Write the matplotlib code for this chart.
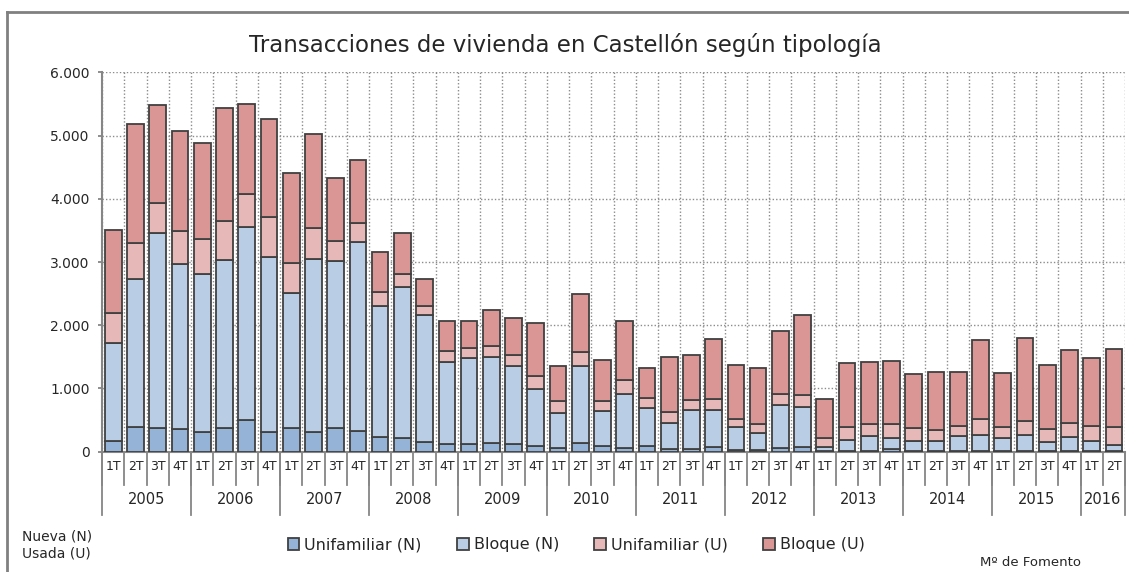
import numpy as np
import matplotlib
matplotlib.use("Agg")
import matplotlib.pyplot as plt
from matplotlib.patches import Patch
from matplotlib.lines import Line2D
from matplotlib.ticker import FuncFormatter

# datos trimestrales 2005 1T - 2016 2T
years = ["2005", "2006", "2007", "2008", "2009", "2010", "2011",
         "2012", "2013", "2014", "2015", "2016"]
quarters_per_year = [4, 4, 4, 4, 4, 4, 4, 4, 4, 4, 4, 2]
quarter_names = ["1T", "2T", "3T", "4T"]

unifamiliar_n = [169, 390, 369, 353, 306, 369, 496, 306, 380, 316, 380, 327,
                 232, 221, 158, 121, 116, 142, 121, 90, 58, 142, 84, 63,
                 95, 37, 47, 79, 21, 32, 53, 79, 10, 15, 10, 50,
                 10, 8, 5, 5, 8, 5, 5, 5, 5, 5]
bloque_n = [1555, 2341, 3089, 2620, 2498, 2657, 3052, 2767, 2129, 2726, 2641, 2994,
            2072, 2378, 2003, 1302, 1360, 1360, 1239, 906, 559, 1213, 564, 849,
            596, 422, 612, 580, 364, 263, 690, 633, 69, 169, 243, 172,
            164, 166, 243, 253, 214, 264, 153, 233, 169, 101]
unifamiliar_u = [474, 564, 480, 517, 565, 622, 522, 633, 469, 495, 305, 300,
                 216, 211, 148, 169, 163, 169, 169, 195, 190, 221, 159, 227,
                 152, 163, 158, 174, 126, 148, 174, 189, 143, 201, 179, 221,
                 200, 169, 163, 253, 168, 211, 206, 221, 232, 284]
bloque_u = [1308, 1882, 1544, 1581, 1507, 1792, 1423, 1560, 1434, 1481, 1007, 992,
            638, 643, 416, 480, 433, 564, 585, 839, 548, 912, 648, 933,
            485, 870, 712, 954, 860, 880, 991, 1266, 611, 1012, 986, 991,
            859, 917, 849, 1260, 859, 1323, 1001, 1149, 1070, 1239]

series = [("Unifamiliar (N)", unifamiliar_n, "#95B3D7"),
          ("Bloque (N)", bloque_n, "#B9CDE5"),
          ("Unifamiliar (U)", unifamiliar_u, "#E6B9B8"),
          ("Bloque (U)", bloque_u, "#D99694")]

W, H = 1129, 572
fig = plt.figure(figsize=(W / 100, H / 100), dpi=100)
ax = fig.add_axes([102.2 / W, 1 - 451.7 / H, (1125 - 102.2) / W, (451.7 - 72.3) / H])

n = len(bloque_u)
x = np.arange(n)
bottom = np.zeros(n)
for name, vals, col in series:
    vals = np.array(vals)
    ax.bar(x, vals, 0.75, bottom=bottom, color=col, edgecolor="#404040",
           linewidth=1.3, zorder=3)
    bottom += vals

ax.set_xlim(-0.5, n - 0.5)
ax.set_ylim(0, 6000)
ax.set_yticks(np.arange(0, 6001, 1000))
ax.yaxis.set_major_formatter(FuncFormatter(lambda v, p: f"{int(v):,}".replace(",", ".")))
ax.set_xticks([])
ax.set_xticks(np.arange(n + 1) - 0.5, minor=True)
ax.tick_params(axis="y", length=3, width=1.3, color="#868686", labelsize=10,
               labelcolor="#262626", pad=6)
ax.tick_params(axis="x", which="both", length=0)
ax.grid(axis="y", which="major", linestyle=(0, (1, 1.5)), color="#8c8c8c", lw=1, zorder=0)
ax.grid(axis="x", which="minor", linestyle=(0, (1, 1.5)), color="#8c8c8c", lw=1, zorder=0)
for s in ["top", "right"]:
    ax.spines[s].set_visible(False)
for s in ["left", "bottom"]:
    ax.spines[s].set_color("#868686")
    ax.spines[s].set_linewidth(1.5)

# etiquetas de dos niveles (trimestre / año)
axh = 451.7 - 72.3
tr = ax.get_xaxis_transform()
pos = 0
for yr, nq in zip(years, quarters_per_year):
    for q in range(nq):
        ax.text(pos + q, -15 / axh, quarter_names[q], transform=tr, ha="center",
                va="center", fontsize=9, color="#262626")
    ax.text(pos + (nq - 1) / 2, -48 / axh, yr, transform=tr, ha="center",
            va="center", fontsize=10.5, color="#262626")
    pos += nq
for i in range(n + 1):
    ax.add_line(Line2D([i - 0.5, i - 0.5], [0, -33 / axh], transform=tr,
                       color="#868686", lw=1.3, clip_on=False))
pos = 0
for nq in [0] + quarters_per_year:
    pos += nq
    ax.add_line(Line2D([pos - 0.5, pos - 0.5], [0, -63 / axh], transform=tr,
                       color="#868686", lw=1.3, clip_on=False))

fig.text(565 / W, 1 - 45 / H, "Transacciones de vivienda en Castellón según tipología",
         ha="center", va="center", fontsize=16.5, color="#262626")

handles = [Patch(facecolor=c, edgecolor="#404040", linewidth=1.3) for _, _, c in series]
fig.legend(handles, [s[0] for s in series], loc="center", ncol=4,
           bbox_to_anchor=(576 / W, 1 - 545 / H), frameon=False, fontsize=11.5,
           handlelength=0.75, handleheight=0.75, handletextpad=0.3, columnspacing=2.2,
           labelcolor="#262626")

fig.text(22 / W, 1 - 545 / H, "Nueva (N)\nUsada (U)", ha="left", va="center",
         fontsize=10, color="#262626", linespacing=1.3)
fig.text(1030 / W, 1 - 563 / H, "Mº de Fomento", ha="center", va="center",
         fontsize=9.5, color="#262626")

# marco exterior (solo se ve arriba y a la izquierda)
fig.add_artist(Line2D([7 / W, 7 / W], [0, 1 - 12 / H], transform=fig.transFigure,
                      color="#808080", lw=2))
fig.add_artist(Line2D([7 / W, 1], [1 - 12 / H, 1 - 12 / H], transform=fig.transFigure,
                      color="#808080", lw=2))

fig.savefig("out.png", dpi=100)
